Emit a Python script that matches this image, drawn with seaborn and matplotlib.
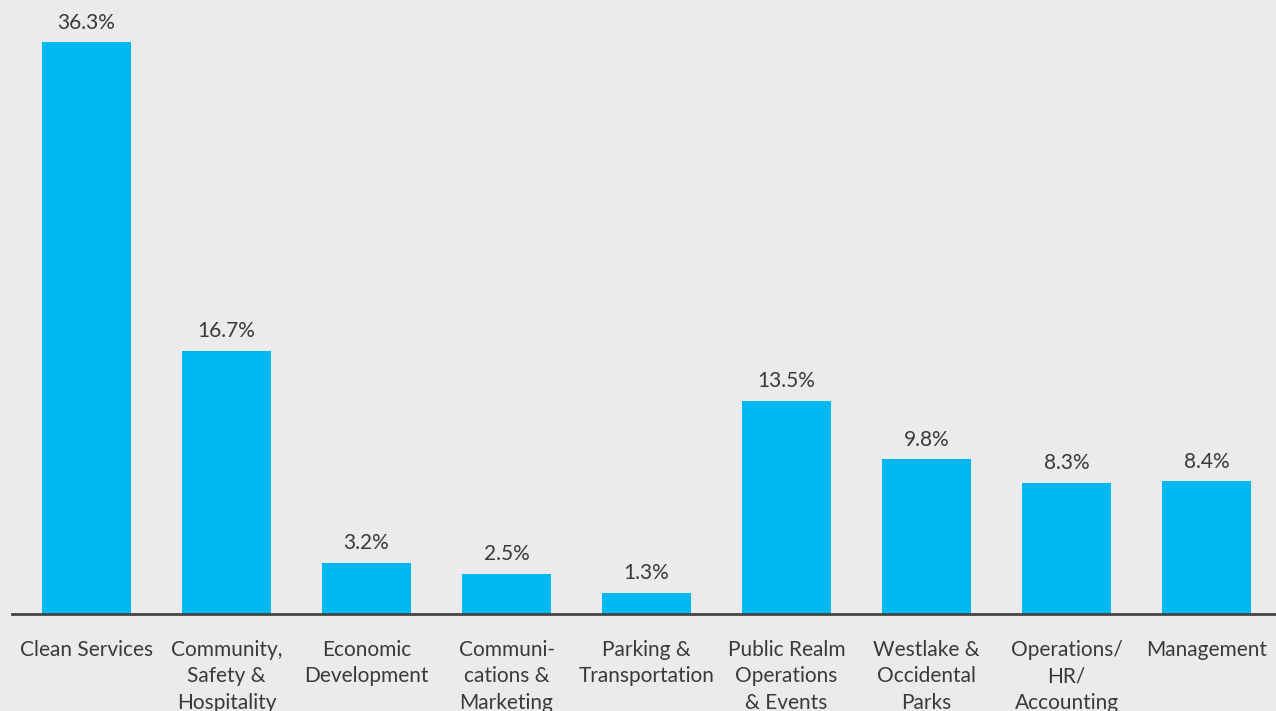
import matplotlib
matplotlib.use("Agg")
import matplotlib.pyplot as plt
import seaborn as sns
import pandas as pd

# Budget share by department
departments = [
    "Clean Services",
    "Community,\nSafety &\nHospitality",
    "Economic\nDevelopment",
    "Communi-\ncations &\nMarketing",
    "Parking &\nTransportation",
    "Public Realm\nOperations\n& Events",
    "Westlake &\nOccidental\nParks",
    "Operations/\nHR/\nAccounting",
    "Management",
]
shares = [36.3, 16.7, 3.2, 2.5, 1.3, 13.5, 9.8, 8.3, 8.4]

df = pd.DataFrame({"dept": departments, "share": shares})

bg = "#EBEBED"
bar_color = "#00B9F1"
text_color = "#3A3A3A"

sns.set_style("white")
plt.rcParams["font.family"] = ["Lato", "DejaVu Sans"]

fig = plt.figure(figsize=(12.76, 7.11), dpi=100, facecolor=bg)
ax = fig.add_axes([12 / 1276, 97.5 / 711, 1 - 12 / 1276, 613.5 / 711])
ax.set_facecolor(bg)

sns.barplot(data=df, x="dept", y="share", color=bar_color, width=0.636,
            saturation=1, linewidth=0, ax=ax)

ax.bar_label(ax.containers[0], labels=[f"{v:.1f}%" for v in shares],
             padding=7, fontsize=15, color=text_color)

ax.set_xlim(-0.532, 8.496)
ax.set_ylim(0, 39.0)
ax.set_xlabel("")
ax.set_ylabel("")
ax.set_yticks([])
ax.tick_params(axis="x", length=0, pad=19, labelsize=15, labelcolor=text_color)
for lbl in ax.get_xticklabels():
    lbl.set_linespacing(1.4)
    lbl.set_verticalalignment("top")

for s in ["top", "right", "left"]:
    ax.spines[s].set_visible(False)
ax.spines["bottom"].set_color("#444444")
ax.spines["bottom"].set_linewidth(2)

fig.savefig("out.png", dpi=100, facecolor=bg)
